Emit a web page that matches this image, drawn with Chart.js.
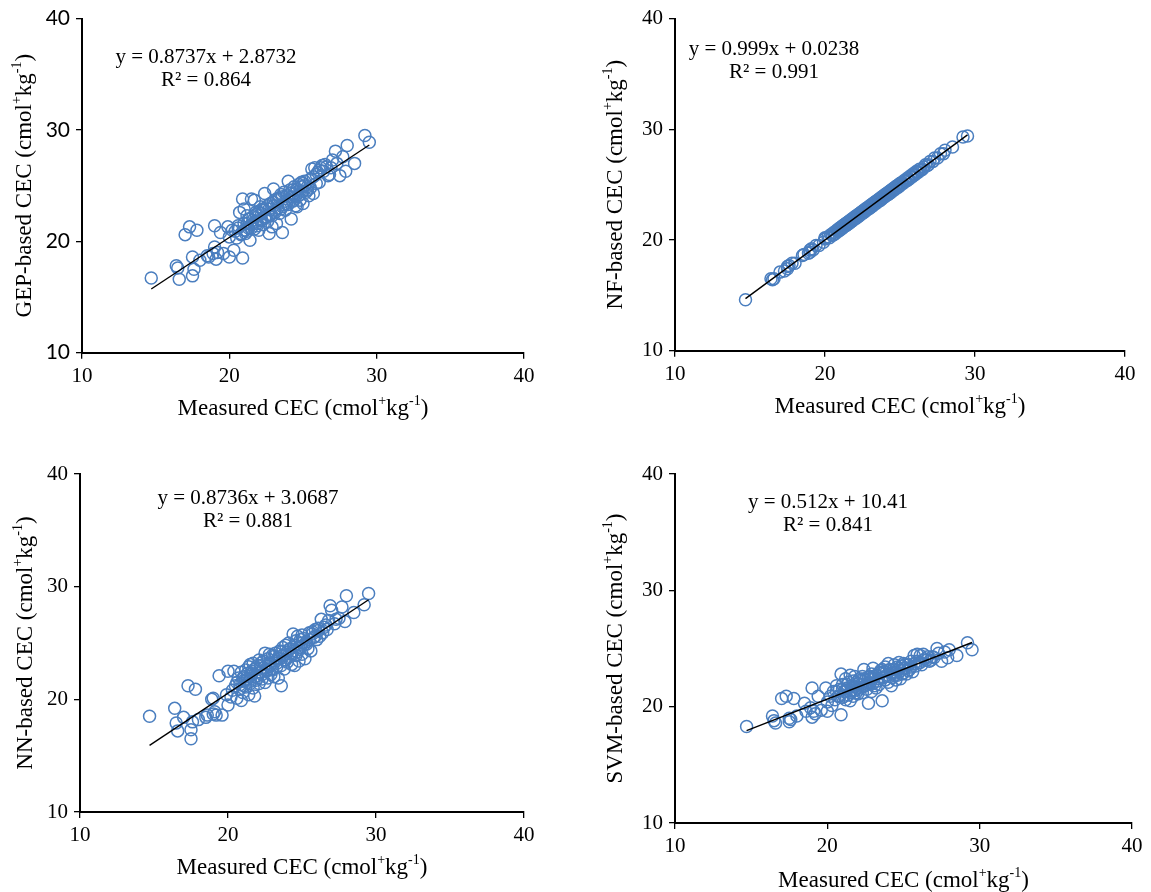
<!DOCTYPE html>
<html>
<head>
<meta charset="utf-8">
<title>Measured vs predicted CEC</title>
<script src="https://cdn.jsdelivr.net/npm/chart.js@4.4.0/dist/chart.umd.min.js"></script>
<style>
  html, body { margin: 0; padding: 0; background: #fff; }
  #wrap { position: relative; width: 1151px; height: 892px; overflow: hidden; }
  #wrap canvas { position: absolute; }
</style>
</head>
<body>
<div id="wrap">
  <canvas id="gep"></canvas>
  <canvas id="nf"></canvas>
  <canvas id="nn"></canvas>
  <canvas id="svm"></canvas>
</div>
<script>
// Measured CEC (cmol+/kg) for every sample
const measured = [
  14.7, 16.4, 16.5, 16.6, 17.0, 17.3, 17.5, 17.5, 17.6, 17.8,
  18.0, 18.5, 18.6, 18.9, 19.0, 19.0, 19.1, 19.2, 19.4, 19.6,
  19.9, 20.0, 20.0, 20.2, 20.3, 20.4, 20.5, 20.6, 20.7, 20.8,
  20.9, 20.9, 21.0, 21.0, 21.1, 21.2, 21.2, 21.3, 21.4, 21.4,
  21.5, 21.5, 21.6, 21.7, 21.7, 21.8, 21.8, 21.9, 22.0, 22.0,
  22.1, 22.1, 22.2, 22.3, 22.3, 22.4, 22.5, 22.5, 22.6, 22.7,
  22.7, 22.8, 22.9, 22.9, 23.0, 23.0, 23.1, 23.2, 23.2, 23.3,
  23.4, 23.4, 23.5, 23.6, 23.6, 23.7, 23.8, 23.8, 23.9, 24.0,
  24.0, 24.1, 24.2, 24.2, 24.3, 24.4, 24.4, 24.5, 24.6, 24.6,
  24.7, 24.8, 24.8, 24.9, 25.0, 25.0, 25.1, 25.2, 25.3, 25.4,
  25.5, 25.6, 25.7, 25.8, 25.9, 26.0, 26.1, 26.2, 26.3, 26.5,
  26.7, 26.9, 27.0, 27.2, 27.3, 27.5, 27.7, 27.9, 28.0, 28.5,
  29.2, 29.5,
  20.6, 20.8, 21.0, 21.1, 21.3, 21.5, 21.6, 21.8, 21.9, 22.0,
  22.2, 22.3, 22.4, 22.6, 22.8, 23.0, 23.1, 23.3, 23.5, 23.7,
  23.9, 24.1, 24.3, 24.5, 24.7, 24.9, 25.1, 25.3, 25.5, 25.7,
  25.9, 26.1, 26.4, 26.6, 26.8, 21.2, 22.7, 23.6, 24.4, 25.0
];

// GEP predictions
const gepPred = [
  16.7, 17.8, 17.6, 16.6, 20.6, 21.3, 18.6, 16.9, 17.5, 21.0,
  18.3, 18.7, 18.6, 18.9, 21.4, 19.5, 18.4, 19.0, 20.8, 18.9,
  21.3, 18.6, 20.4, 21.0, 19.2, 20.9, 20.3, 21.4, 22.6, 20.6,
  23.8, 18.5, 22.9, 21.0, 20.7, 21.6, 20.9, 21.2, 20.1, 22.0,
  23.8, 21.5, 22.2, 23.7, 21.1, 21.8, 22.6, 21.4, 22.3, 21.0,
  23.1, 21.9, 22.5, 21.5, 22.8, 24.3, 22.2, 23.0, 21.8, 20.7,
  22.9, 23.4, 22.3, 21.3, 24.7, 23.2, 22.6, 23.8, 21.6, 23.0,
  22.5, 23.9, 24.2, 20.8, 23.1, 24.4, 23.6, 22.8, 24.1, 25.4,
  23.3, 24.6, 22.0, 24.0, 23.6, 24.9, 24.3, 23.2, 23.1, 24.7,
  25.1, 24.2, 23.7, 25.3, 24.5, 23.4, 25.0, 24.4, 24.9, 24.1,
  25.6, 26.5, 24.3, 26.6, 25.2, 26.2, 25.3, 26.6, 26.8, 26.9,
  25.9, 26.6, 27.3, 28.1, 27.0, 25.9, 27.6, 26.3, 28.6, 27.0,
  29.5, 28.9,
  21.2, 20.7, 21.6, 21.0, 22.0, 21.2, 21.9, 22.4, 21.6, 22.6,
  21.9, 22.9, 22.1, 23.2, 22.4, 23.5, 22.8, 23.8, 22.9, 23.3,
  23.4, 24.3, 24.6, 24.0, 24.1, 24.9, 25.4, 24.6, 24.8, 25.8,
  26.0, 26.4, 26.3, 26.7, 26.0, 22.3, 22.3, 24.0, 23.7, 25.2
];

// NF predictions
const nfPred = [
  14.6, 16.5, 16.4, 16.5, 17.1, 17.2, 17.6, 17.4, 17.7, 17.9,
  17.9, 18.6, 18.7, 18.8, 19.1, 18.9, 19.2, 19.1, 19.5, 19.5,
  19.8, 20.2, 20.1, 20.3, 20.2, 20.5, 20.4, 20.7, 20.6, 20.9,
  21.0, 20.8, 21.1, 20.9, 21.2, 21.1, 21.3, 21.4, 21.3, 21.5,
  21.6, 21.4, 21.7, 21.6, 21.8, 21.9, 21.7, 22.0, 21.9, 22.1,
  22.2, 22.0, 22.3, 22.2, 22.4, 22.5, 22.4, 22.6, 22.7, 22.6,
  22.8, 22.9, 22.8, 23.0, 23.1, 22.9, 23.2, 23.1, 23.3, 23.4,
  23.3, 23.5, 23.6, 23.5, 23.7, 23.8, 23.7, 23.9, 24.0, 24.1,
  23.9, 24.2, 24.1, 24.3, 24.4, 24.3, 24.5, 24.6, 24.5, 24.7,
  24.8, 24.7, 24.9, 25.0, 24.9, 25.1, 25.2, 25.1, 25.4, 25.3,
  25.6, 25.5, 25.8, 25.7, 26.0, 25.9, 26.2, 26.1, 26.4, 26.4,
  26.8, 26.8, 27.1, 27.1, 27.4, 27.4, 27.8, 27.8, 28.1, 28.4,
  29.3, 29.4,
  20.5, 20.8, 21.0, 21.0, 21.3, 21.5, 21.5, 21.8, 21.9, 22.0,
  22.1, 22.3, 22.4, 22.5, 22.8, 23.0, 23.0, 23.3, 23.5, 23.6,
  23.9, 24.1, 24.2, 24.5, 24.7, 24.8, 25.1, 25.3, 25.4, 25.7,
  25.9, 26.1, 26.3, 26.6, 26.7, 21.2, 22.7, 23.6, 24.4, 25.0
];

// NN predictions
const nnPred = [
  18.5, 19.2, 17.9, 17.2, 18.4, 21.2, 16.5, 17.3, 18.0, 20.9,
  18.2, 18.4, 18.6, 20.0, 18.7, 20.1, 18.9, 18.6, 22.1, 18.6,
  20.4, 22.5, 19.5, 20.2, 20.8, 22.5, 21.2, 20.1, 21.9, 21.3,
  22.4, 19.9, 21.6, 20.6, 22.0, 21.1, 22.6, 21.8, 20.4, 22.9,
  21.4, 23.1, 22.3, 21.0, 23.2, 20.3, 22.7, 21.7, 23.0, 22.1,
  21.4, 23.5, 22.4, 21.8, 23.3, 22.8, 24.1, 21.5, 22.6, 23.6,
  21.9, 24.0, 22.2, 23.1, 22.7, 23.9, 22.0, 23.4, 24.1, 22.9,
  21.9, 23.7, 24.3, 21.2, 23.0, 24.6, 23.5, 22.7, 24.8, 24.2,
  23.3, 25.0, 23.8, 24.5, 23.1, 25.8, 24.3, 23.0, 25.2, 23.9,
  25.6, 24.6, 23.4, 25.3, 24.0, 25.7, 24.8, 23.6, 25.1, 24.5,
  25.9, 24.3, 26.0, 25.5, 26.2, 25.3, 26.1, 25.6, 27.1, 26.4,
  26.2, 28.3, 27.9, 26.7, 27.1, 27.2, 28.2, 26.9, 29.2, 27.7,
  28.4, 29.4,
  21.5, 20.9, 21.9, 21.2, 22.3, 21.6, 22.5, 22.0, 22.8, 21.9,
  23.0, 22.2, 23.4, 22.5, 23.2, 22.6, 23.8, 23.2, 23.6, 23.9,
  23.5, 24.4, 24.0, 24.8, 24.2, 24.6, 25.4, 24.9, 25.3, 25.8,
  25.6, 26.3, 25.9, 26.6, 27.0, 21.7, 23.0, 24.2, 24.6, 25.0
];

// SVM predictions
const svmPred = [
  18.3, 19.2, 18.8, 18.6, 20.7, 20.9, 19.0, 18.7, 18.9, 20.7,
  19.2, 20.3, 19.6, 19.9, 21.6, 19.1, 19.6, 19.4, 20.9, 19.7,
  21.6, 19.6, 20.4, 20.9, 20.1, 21.3, 20.6, 21.8, 20.9, 21.5,
  22.8, 19.3, 21.9, 20.8, 21.3, 22.4, 20.6, 21.6, 21.0, 22.1,
  22.7, 20.5, 21.4, 22.2, 20.9, 21.7, 22.6, 21.2, 22.0, 21.1,
  22.4, 21.5, 21.9, 22.6, 21.2, 23.2, 21.8, 22.3, 21.5, 20.3,
  22.5, 22.0, 22.8, 21.3, 23.3, 22.4, 21.8, 22.7, 21.6, 22.2,
  22.9, 21.9, 23.1, 20.5, 22.5, 23.0, 22.3, 23.4, 22.7, 23.7,
  22.1, 23.2, 21.8, 22.9, 22.5, 23.6, 23.0, 22.3, 23.4, 22.7,
  23.8, 23.1, 22.4, 23.5, 22.9, 23.7, 23.3, 22.8, 23.6, 23.2,
  23.9, 23.0, 24.4, 23.5, 24.5, 23.8, 24.4, 23.6, 24.5, 24.0,
  23.9, 24.3, 24.2, 25.0, 24.6, 23.9, 24.7, 24.2, 24.9, 24.4,
  25.5, 24.9,
  21.3, 20.9, 21.5, 20.9, 21.9, 21.2, 21.8, 21.4, 22.1, 21.6,
  22.3, 21.7, 22.4, 21.9, 22.6, 22.0, 22.6, 22.4, 22.9, 22.5,
  23.1, 22.6, 23.2, 22.9, 23.3, 22.8, 23.6, 23.1, 23.4, 23.7,
  23.9, 23.8, 24.1, 24.3, 24.0, 21.3, 22.1, 23.2, 22.7, 23.3
];

// Linear fits reported for each model
const modelNames = ['GEP', 'NF', 'NN', 'SVM'];
const slopes = [0.8737, 0.999, 0.8736, 0.512];
const intercepts = [2.8732, 0.0238, 3.0687, 10.41];
const rSquared = [0.864, 0.991, 0.881, 0.841];

// Axis ticks (both axes)
const axisTicks = [10, 20, 30, 40];

const predictions = [gepPred, nfPred, nnPred, svmPred];
const canvasIds = ['gep', 'nf', 'nn', 'svm'];

// Page layout of the four panels: canvas box and plot area, in page pixels
const layout = [
  { box: [0, 0, 575, 445],   area: [82, 18.5, 524, 352.7], eq: [206, 57],  xTitleY: 407, yTitleX: 23,  sansY: true },
  { box: [575, 0, 576, 445], area: [675, 18, 1125, 350.7], eq: [774, 49],  xTitleY: 405, yTitleX: 614, sansY: false },
  { box: [0, 445, 575, 447], area: [80, 474, 524, 812],    eq: [248, 498], xTitleY: 866, yTitleX: 24,  sansY: false },
  { box: [575, 445, 576, 447], area: [675, 474, 1132, 823], eq: [828, 502], xTitleY: 879, yTitleX: 614, sansY: false }
];

const SERIF = '"Liberation Serif", "Times New Roman", serif';
const SANS = 'Lato, "Liberation Sans", sans-serif';
const Y_SCALE_W = 70;
const X_SCALE_H = 40;
const TITLE_SIZE = 23;
const EQ_SIZE = 21;

// Draw a line of text with superscript parts, centred on (cx, cy)
function drawRich(ctx, parts, cx, cy, size) {
  const supSize = Math.round(size * 0.6);
  let total = 0;
  parts.forEach(p => {
    ctx.font = (p.sup ? supSize : size) + 'px ' + SERIF;
    p.w = ctx.measureText(p.t).width;
    total += p.w;
  });
  let x = cx - total / 2;
  ctx.textAlign = 'left';
  ctx.textBaseline = 'alphabetic';
  const base = cy + size * 0.33;
  parts.forEach(p => {
    ctx.font = (p.sup ? supSize : size) + 'px ' + SERIF;
    ctx.fillText(p.t, x, p.sup ? base - size * 0.4 : base);
    x += p.w;
  });
}

function unitParts(lead) {
  return [
    { t: lead + ' (cmol' }, { t: '+', sup: true }, { t: 'kg' }, { t: '-1', sup: true }, { t: ')' }
  ];
}

// Axis titles and regression labels
const annotatePlugin = {
  id: 'annotate',
  afterDraw(chart, args, opts) {
    const ctx = chart.ctx;
    const a = chart.chartArea;
    const L = opts.layout;
    const ox = L.box[0], oy = L.box[1];
    ctx.save();
    ctx.fillStyle = '#000';
    // x-axis title
    drawRich(ctx, unitParts('Measured CEC'), (a.left + a.right) / 2, L.xTitleY - oy, TITLE_SIZE);
    // y-axis title, rotated
    ctx.save();
    ctx.translate(L.yTitleX - ox, (a.top + a.bottom) / 2);
    ctx.rotate(-Math.PI / 2);
    drawRich(ctx, unitParts(opts.name + '-based CEC'), 0, 0, TITLE_SIZE);
    ctx.restore();
    // regression equation and R²
    ctx.font = EQ_SIZE + 'px ' + SERIF;
    ctx.textAlign = 'center';
    ctx.textBaseline = 'middle';
    const ex = L.eq[0] - ox, ey = L.eq[1] - oy;
    ctx.fillText('y = ' + opts.slope + 'x + ' + opts.intercept, ex, ey);
    ctx.fillText('R² = ' + opts.r2, ex, ey + 23);
    ctx.restore();
  }
};

const xMin = Math.min(...measured);
const xMax = Math.max(...measured);

canvasIds.forEach((id, k) => {
  const L = layout[k];
  const cv = document.getElementById(id);
  cv.width = L.box[2];
  cv.height = L.box[3];
  cv.style.left = L.box[0] + 'px';
  cv.style.top = L.box[1] + 'px';

  const relL = L.area[0] - L.box[0];
  const relT = L.area[1] - L.box[1];
  const relR = L.area[2] - L.box[0];
  const relB = L.area[3] - L.box[1];

  const pts = measured.map((m, i) => ({ x: m, y: predictions[k][i] }));
  const fitLine = [xMin, xMax].map(x => ({ x: x, y: slopes[k] * x + intercepts[k] }));

  const tickStyle = (sans) => ({
    color: '#000',
    font: { family: sans ? SANS : SERIF, size: 21 },
    padding: 6,
    autoSkip: false
  });

  const gridStyle = {
    display: true,
    drawOnChartArea: false,
    drawTicks: true,
    tickLength: 6,
    color: '#000',
    lineWidth: 1.3
  };

  new Chart(cv, {
    type: 'scatter',
    data: {
      datasets: [
        {
          type: 'line',
          data: fitLine,
          borderColor: '#000',
          borderWidth: 1.4,
          pointRadius: 0,
          fill: false,
          tension: 0
        },
        {
          data: pts,
          pointStyle: 'circle',
          pointRadius: 6,
          pointBorderWidth: 1.5,
          pointBorderColor: '#4A7EBF',
          pointBackgroundColor: 'rgba(0,0,0,0)',
          borderColor: '#4A7EBF',
          backgroundColor: 'rgba(0,0,0,0)'
        }
      ]
    },
    options: {
      responsive: false,
      animation: false,
      devicePixelRatio: 1,
      layout: {
        padding: {
          left: relL - Y_SCALE_W,
          top: relT,
          right: L.box[2] - relR,
          bottom: L.box[3] - relB - X_SCALE_H
        }
      },
      plugins: {
        legend: { display: false },
        tooltip: { enabled: false },
        annotate: {
          layout: L,
          name: modelNames[k],
          slope: slopes[k],
          intercept: intercepts[k],
          r2: rSquared[k]
        }
      },
      scales: {
        x: {
          type: 'linear',
          min: axisTicks[0],
          max: axisTicks[axisTicks.length - 1],
          afterBuildTicks: s => { s.ticks = axisTicks.map(v => ({ value: v })); },
          afterFit: s => { s.height = X_SCALE_H; },
          ticks: Object.assign(tickStyle(false), { padding: 5 }),
          grid: gridStyle,
          border: { display: true, color: '#000', width: 2 }
        },
        y: {
          type: 'linear',
          min: axisTicks[0],
          max: axisTicks[axisTicks.length - 1],
          afterBuildTicks: s => { s.ticks = axisTicks.map(v => ({ value: v })); },
          afterFit: s => { s.width = Y_SCALE_W; },
          ticks: tickStyle(L.sansY),
          grid: gridStyle,
          border: { display: true, color: '#000', width: 2 }
        }
      }
    },
    plugins: [annotatePlugin]
  });
});
</script>
</body>
</html>
